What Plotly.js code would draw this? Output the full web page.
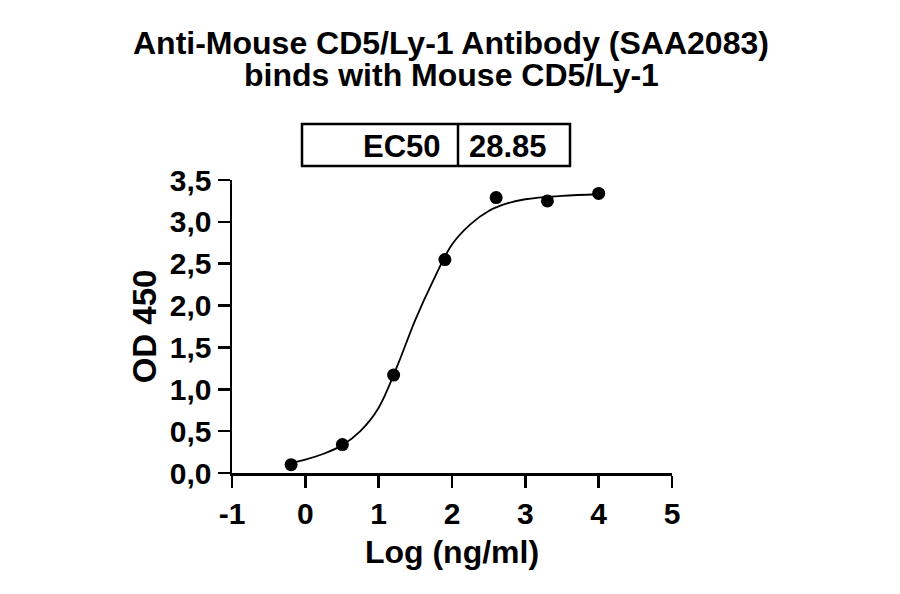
<!DOCTYPE html>
<html>
<head>
<meta charset="utf-8">
<script src="https://cdn.plot.ly/plotly-3.0.1.min.js"></script>
<style>html,body{margin:0;padding:0;background:#fff;}#chart{width:900px;height:594px;}</style>
</head>
<body>
<div id="chart"></div>
<script>
// Measured points: log10 concentration (ng/ml) vs OD450
const logConc = [-0.194, 0.505, 1.204, 1.903, 2.602, 3.301, 4.0];
const od450 = [0.10, 0.34, 1.17, 2.55, 3.29, 3.25, 3.34];

// Fitted curve
const curveX = [-0.2, 0.0, 0.25, 0.5, 0.75, 1.0, 1.25, 1.5, 1.75, 2.0, 2.25, 2.5, 2.75, 3.0, 3.5, 4.0];
const curveY = [0.12, 0.16, 0.23, 0.33, 0.50, 0.78, 1.27, 1.83, 2.31, 2.73, 2.97, 3.13, 3.22, 3.27, 3.31, 3.33];

const xTickVals = [-1, 0, 1, 2, 3, 4, 5];
const xTickText = ["-1", "0", "1", "2", "3", "4", "5"];
const yTickVals = [0, 0.5, 1, 1.5, 2, 2.5, 3, 3.5];
const yTickText = ["0,0", "0,5", "1,0", "1,5", "2,0", "2,5", "3,0", "3,5"];

const titleLines = ["Anti-Mouse CD5/Ly-1 Antibody (SAA2083)", "binds with Mouse CD5/Ly-1"];
const ec50Label = "EC50";
const ec50Value = "28.85";

const FONT = "Liberation Sans, Arial, sans-serif";
const bold = (s, c) => ({family: FONT, size: s, color: c || "#000", weight: 700});

const traces = [
  {x: curveX, y: curveY, type: "scatter", mode: "lines", line: {color: "#000", width: 1.8, shape: "spline", smoothing: 1}, hoverinfo: "skip", showlegend: false},
  {x: logConc, y: od450, type: "scatter", mode: "markers", marker: {color: "#000", size: 13}, showlegend: false}
];

const L = 232, R = 672, T = 180, B = 473;
const px = v => (v - L) / (R - L);
const py = v => (B - v) / (B - T);

const layout = {
  width: 900, height: 594,
  margin: {l: L, r: 900 - R, t: T, b: 594 - B, pad: 0},
  paper_bgcolor: "#fff", plot_bgcolor: "#fff",
  showlegend: false,
  xaxis: {
    range: [-1, 5], tickvals: xTickVals, ticktext: xTickText,
    showgrid: false, zeroline: false, showline: true, linecolor: "#000", linewidth: 2.5,
    ticks: "outside", ticklen: 12, tickwidth: 2.5, tickcolor: "#000",
    tickfont: bold(30),
    title: {text: "Log (ng/ml)", font: bold(32), standoff: 12},
    automargin: false, fixedrange: true
  },
  yaxis: {
    range: [0, 3.5], tickvals: yTickVals, ticktext: yTickText,
    showgrid: false, zeroline: false, showline: true, linecolor: "#000", linewidth: 2.5,
    ticks: "outside", ticklen: 12, tickwidth: 2.5, tickcolor: "#000",
    tickfont: bold(30),
    title: {text: "OD 450", font: bold(33), standoff: 3},
    automargin: false, fixedrange: true
  },
  shapes: [
    {type: "rect", xref: "paper", yref: "paper", x0: px(302), x1: px(570), y0: py(166), y1: py(124), line: {color: "#000", width: 2.5}},
    {type: "line", xref: "paper", yref: "paper", x0: px(458), x1: px(458), y0: py(166), y1: py(124), line: {color: "#000", width: 2.5}}
  ],
  annotations: [
    {text: titleLines[0], xref: "paper", yref: "paper", x: px(451), y: py(43), xanchor: "center", yanchor: "middle", showarrow: false, font: bold(32)},
    {text: titleLines[1], xref: "paper", yref: "paper", x: px(451), y: py(75), xanchor: "center", yanchor: "middle", showarrow: false, font: bold(32)},
    {text: ec50Label, xref: "paper", yref: "paper", x: px(443), y: py(146), xanchor: "right", yanchor: "middle", showarrow: false, font: bold(31)},
    {text: ec50Value, xref: "paper", yref: "paper", x: px(508), y: py(146), xanchor: "center", yanchor: "middle", showarrow: false, font: bold(31)}
  ]
};

Plotly.newPlot("chart", traces, layout, {displayModeBar: false, staticPlot: true});
</script>
</body>
</html>
